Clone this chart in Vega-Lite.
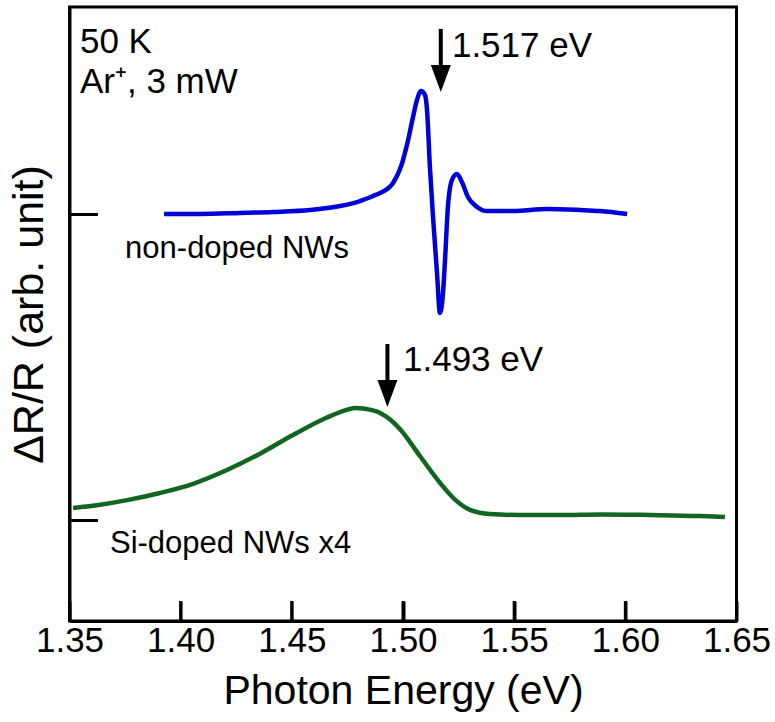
{
  "$schema": "https://vega.github.io/schema/vega-lite/v6.json",
  "width": 667,
  "height": 614,
  "autosize": {"type": "none"},
  "padding": {"left": 69.5, "top": 7, "right": 38.5, "bottom": 101},
  "background": "white",
  "config": {"view": {"stroke": "black", "strokeWidth": 3}, "font": "Liberation Sans"},
  "datasets": {
    "curves": [
      {"series": "non-doped", "E": 1.3925, "dRR": 3.000},
      {"series": "non-doped", "E": 1.4087, "dRR": 3.000},
      {"series": "non-doped", "E": 1.4267, "dRR": 3.010},
      {"series": "non-doped", "E": 1.4415, "dRR": 3.020},
      {"series": "non-doped", "E": 1.4582, "dRR": 3.039},
      {"series": "non-doped", "E": 1.4717, "dRR": 3.078},
      {"series": "non-doped", "E": 1.4807, "dRR": 3.127},
      {"series": "non-doped", "E": 1.4865, "dRR": 3.176},
      {"series": "non-doped", "E": 1.4897, "dRR": 3.206},
      {"series": "non-doped", "E": 1.4955, "dRR": 3.304},
      {"series": "non-doped", "E": 1.4996, "dRR": 3.500},
      {"series": "non-doped", "E": 1.5023, "dRR": 3.725},
      {"series": "non-doped", "E": 1.5045, "dRR": 3.951},
      {"series": "non-doped", "E": 1.5063, "dRR": 4.118},
      {"series": "non-doped", "E": 1.5081, "dRR": 4.206},
      {"series": "non-doped", "E": 1.5099, "dRR": 4.167},
      {"series": "non-doped", "E": 1.5108, "dRR": 4.020},
      {"series": "non-doped", "E": 1.5121, "dRR": 3.461},
      {"series": "non-doped", "E": 1.5135, "dRR": 2.971},
      {"series": "non-doped", "E": 1.5153, "dRR": 2.422},
      {"series": "non-doped", "E": 1.5166, "dRR": 2.029},
      {"series": "non-doped", "E": 1.5180, "dRR": 2.225},
      {"series": "non-doped", "E": 1.5189, "dRR": 2.549},
      {"series": "non-doped", "E": 1.5202, "dRR": 3.069},
      {"series": "non-doped", "E": 1.5220, "dRR": 3.333},
      {"series": "non-doped", "E": 1.5243, "dRR": 3.392},
      {"series": "non-doped", "E": 1.5265, "dRR": 3.314},
      {"series": "non-doped", "E": 1.5292, "dRR": 3.167},
      {"series": "non-doped", "E": 1.5333, "dRR": 3.069},
      {"series": "non-doped", "E": 1.5378, "dRR": 3.029},
      {"series": "non-doped", "E": 1.5495, "dRR": 3.029},
      {"series": "non-doped", "E": 1.5648, "dRR": 3.049},
      {"series": "non-doped", "E": 1.5796, "dRR": 3.039},
      {"series": "non-doped", "E": 1.5886, "dRR": 3.029},
      {"series": "non-doped", "E": 1.6008, "dRR": 3.000},
      {"series": "Si-doped", "E": 1.3516, "dRR": 0.118},
      {"series": "Si-doped", "E": 1.3637, "dRR": 0.150},
      {"series": "Si-doped", "E": 1.3759, "dRR": 0.195},
      {"series": "Si-doped", "E": 1.3907, "dRR": 0.265},
      {"series": "Si-doped", "E": 1.4056, "dRR": 0.355},
      {"series": "Si-doped", "E": 1.4208, "dRR": 0.490},
      {"series": "Si-doped", "E": 1.4357, "dRR": 0.650},
      {"series": "Si-doped", "E": 1.4505, "dRR": 0.833},
      {"series": "Si-doped", "E": 1.4658, "dRR": 1.005},
      {"series": "Si-doped", "E": 1.4739, "dRR": 1.075},
      {"series": "Si-doped", "E": 1.4784, "dRR": 1.098},
      {"series": "Si-doped", "E": 1.4829, "dRR": 1.090},
      {"series": "Si-doped", "E": 1.4897, "dRR": 1.049},
      {"series": "Si-doped", "E": 1.4942, "dRR": 0.985},
      {"series": "Si-doped", "E": 1.4987, "dRR": 0.890},
      {"series": "Si-doped", "E": 1.5077, "dRR": 0.625},
      {"series": "Si-doped", "E": 1.5167, "dRR": 0.363},
      {"series": "Si-doped", "E": 1.5234, "dRR": 0.200},
      {"series": "Si-doped", "E": 1.5301, "dRR": 0.100},
      {"series": "Si-doped", "E": 1.5391, "dRR": 0.059},
      {"series": "Si-doped", "E": 1.5526, "dRR": 0.049},
      {"series": "Si-doped", "E": 1.5706, "dRR": 0.049},
      {"series": "Si-doped", "E": 1.5886, "dRR": 0.055},
      {"series": "Si-doped", "E": 1.6111, "dRR": 0.049},
      {"series": "Si-doped", "E": 1.6336, "dRR": 0.039},
      {"series": "Si-doped", "E": 1.6448, "dRR": 0.029}
    ],
    "xticks": [
      {"E": 1.40, "y0": -0.99, "y1": -0.794},
      {"E": 1.45, "y0": -0.99, "y1": -0.794},
      {"E": 1.50, "y0": -0.99, "y1": -0.794},
      {"E": 1.55, "y0": -0.99, "y1": -0.794},
      {"E": 1.60, "y0": -0.99, "y1": -0.794}
    ],
    "arrows": [
      {"E": 1.517, "top": 4.814, "headTop": 4.40, "tip": 4.196},
      {"E": 1.493, "top": 1.725, "headTop": 1.33, "tip": 1.108}
    ],
    "bigLabels": [
      {"E": 1.522, "y": 4.539, "text": "1.517 eV"},
      {"E": 1.500, "y": 1.461, "text": "1.493 eV"},
      {"E": 1.3547, "y": 4.578, "text": "50 K"},
      {"E": 1.3547, "y": 4.186, "text": "Ar⁺, 3 mW"}
    ],
    "smallLabels": [
      {"E": 1.375, "y": 2.569, "text": "non-doped NWs"},
      {"E": 1.3682, "y": -0.324, "text": "Si-doped NWs x4"}
    ]
  },
  "layer": [
    {
      "data": {"name": "curves"},
      "mark": {"type": "line", "strokeWidth": 4.5, "interpolate": "monotone", "clip": true},
      "encoding": {
        "x": {
          "field": "E", "type": "quantitative",
          "scale": {"domain": [1.35, 1.65], "nice": false, "zero": false},
          "axis": {
            "values": [1.35, 1.4, 1.45, 1.5, 1.55, 1.6, 1.65],
            "format": ".2f",
            "title": "Photon Energy (eV)",
            "grid": false,
            "domainColor": "black", "domainWidth": 3,
            "tickColor": "black", "tickWidth": 3, "tickSize": -20,
            "labelFont": "Liberation Sans", "labelFontSize": 35, "labelColor": "black",
            "labelPadding": 22, "labelFlush": false, "labelOverlap": false,
            "titleFont": "Liberation Sans", "titleFontSize": 41, "titleFontWeight": "normal",
            "titleColor": "black", "titlePadding": 13
          }
        },
        "y": {
          "field": "dRR", "type": "quantitative",
          "scale": {"domain": [-0.99, 5.029], "nice": false, "zero": false},
          "axis": {
            "values": [0, 3],
            "labels": false,
            "grid": false,
            "domainColor": "black", "domainWidth": 3,
            "tickColor": "black", "tickWidth": 3, "tickSize": -28,
            "title": "ΔR/R (arb. unit)",
            "titleFont": "Liberation Sans", "titleFontSize": 43, "titleFontWeight": "normal",
            "titleColor": "black", "titlePadding": 17
          }
        },
        "color": {
          "field": "series", "type": "nominal",
          "scale": {"domain": ["non-doped", "Si-doped"], "range": ["#0000d8", "#11661f"]},
          "legend": null
        },
        "detail": {"field": "series"}
      }
    },
    {
      "data": {"name": "xticks"},
      "mark": {"type": "rule", "color": "black", "strokeWidth": 3},
      "encoding": {
        "x": {"field": "E", "type": "quantitative"},
        "y": {"field": "y0", "type": "quantitative"},
        "y2": {"field": "y1"}
      }
    },
    {
      "data": {"name": "arrows"},
      "mark": {"type": "rule", "color": "black", "strokeWidth": 4},
      "encoding": {
        "x": {"field": "E", "type": "quantitative"},
        "y": {"field": "top", "type": "quantitative"},
        "y2": {"field": "headTop"}
      }
    },
    {
      "data": {"name": "arrows"},
      "mark": {"type": "point", "shape": "M-0.74,-2L0.74,-2L0,0Z", "filled": true, "color": "black", "opacity": 1, "size": 729, "strokeWidth": 0},
      "encoding": {
        "x": {"field": "E", "type": "quantitative"},
        "y": {"field": "tip", "type": "quantitative"}
      }
    },
    {
      "data": {"name": "bigLabels"},
      "mark": {"type": "text", "align": "left", "baseline": "alphabetic", "fontSize": 35, "font": "Liberation Sans", "color": "black"},
      "encoding": {
        "x": {"field": "E", "type": "quantitative"},
        "y": {"field": "y", "type": "quantitative"},
        "text": {"field": "text"}
      }
    },
    {
      "data": {"name": "smallLabels"},
      "mark": {"type": "text", "align": "left", "baseline": "alphabetic", "fontSize": 31, "font": "Liberation Sans", "color": "black"},
      "encoding": {
        "x": {"field": "E", "type": "quantitative"},
        "y": {"field": "y", "type": "quantitative"},
        "text": {"field": "text"}
      }
    }
  ]
}
